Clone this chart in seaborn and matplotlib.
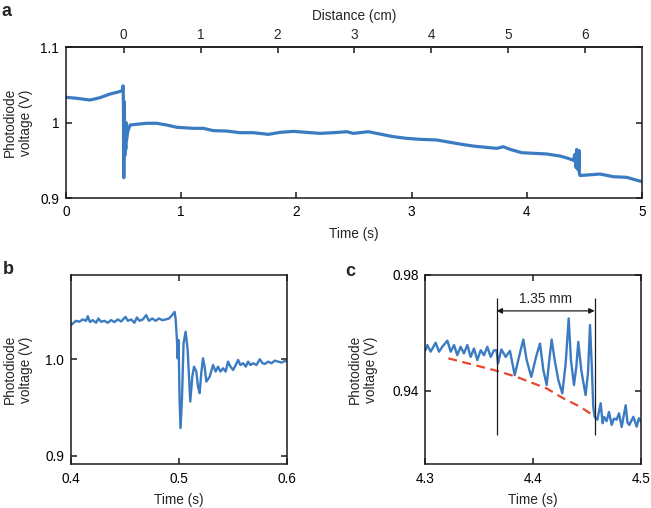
import matplotlib
matplotlib.use("Agg")
import matplotlib.pyplot as plt
import seaborn as sns
import pandas as pd

# ---------------- data ----------------
# Panel a: full photodiode trace
a_time = [0.000, 0.093, 0.208, 0.295, 0.382, 0.454, 0.483, 0.490, 0.4960, 0.4985, 0.5014,
          0.5061, 0.5104, 0.5139, 0.5191, 0.5222, 0.5253, 0.535, 0.556, 0.614, 0.700,
          0.787, 0.874, 0.961, 1.105, 1.192, 1.279, 1.395, 1.510, 1.626, 1.756, 1.858,
          1.973, 2.089, 2.205, 2.320, 2.437, 2.494, 2.624, 2.726, 2.841, 2.957, 3.073,
          3.218, 3.304, 3.420, 3.536, 3.652, 3.738, 3.796, 3.854, 3.956, 4.057, 4.173,
          4.288, 4.360, 4.404, 4.418, 4.425, 4.4325, 4.4387, 4.4465, 4.4500, 4.4533,
          4.4564, 4.462, 4.520, 4.635, 4.751, 4.867, 4.968, 5.000]
a_volt = [1.0338, 1.0325, 1.0302, 1.0333, 1.0382, 1.0409, 1.0426, 1.0430, 1.0491, 1.0200, 0.9270,
          1.0280, 0.9563, 0.9924, 0.9650, 1.0000, 0.9769, 0.9880, 0.9970, 0.9980, 0.9993,
          0.9993, 0.9970, 0.9940, 0.9926, 0.9926, 0.9895, 0.9890, 0.9868, 0.9868, 0.9846, 0.9872,
          0.9886, 0.9872, 0.9859, 0.9868, 0.9881, 0.9859, 0.9881, 0.9850, 0.9815, 0.9793, 0.9780,
          0.9771, 0.9748, 0.9717, 0.9690, 0.9673, 0.9660, 0.9681, 0.9647, 0.9602, 0.9594, 0.9585,
          0.9558, 0.9527, 0.9500, 0.9580, 0.9410, 0.9645, 0.9385, 0.9605, 0.9370, 0.9630,
          0.9322, 0.9300, 0.9305, 0.9319, 0.9283, 0.9275, 0.9230, 0.9220]

# Panel b: zoom around the first transition
b_time = [0.4000, 0.4046, 0.4077, 0.4108, 0.4139, 0.4155, 0.4176, 0.4201, 0.4232, 0.4254,
          0.4278, 0.4309, 0.4340, 0.4371, 0.4402, 0.4433, 0.4464, 0.4504, 0.4526, 0.4557,
          0.4587, 0.4610, 0.4634, 0.4665, 0.4696, 0.4721, 0.4752, 0.4783, 0.4814, 0.4845,
          0.4876, 0.4907, 0.4937, 0.4959, 0.4968,
          0.4981, 0.4987, 0.4996, 0.5005, 0.5014, 0.5027, 0.5042, 0.5061, 0.5080, 0.5104,
          0.5123, 0.5139, 0.5160, 0.5176, 0.5191, 0.5206, 0.5222, 0.5237, 0.5253,
          0.5284, 0.5315, 0.5339, 0.5361, 0.5383, 0.5408, 0.5432, 0.5454, 0.5476, 0.5501,
          0.5525, 0.5547, 0.5568, 0.5594, 0.5618, 0.5640, 0.5661, 0.5686, 0.5717, 0.5748,
          0.5773, 0.5795, 0.5826, 0.5856, 0.5887, 0.5918, 0.5949, 0.5980, 0.6000]
b_volt = [1.0354, 1.0398, 1.0388, 1.0412, 1.0398, 1.0446, 1.0385, 1.0405, 1.0378, 1.0422,
          1.0388, 1.0398, 1.0378, 1.0405, 1.0385, 1.0412, 1.0391, 1.0439, 1.0398, 1.0412,
          1.0378, 1.0433, 1.0398, 1.0412, 1.0457, 1.0398, 1.0422, 1.0398, 1.0422, 1.0405,
          1.0412, 1.0422, 1.0457, 1.0491, 1.0422,
          1.0199, 1.0010, 1.0199, 0.9580, 0.9289, 0.9580, 1.0165, 1.0285, 1.0096, 0.9563,
          0.9821, 0.9924, 0.9873, 0.9718, 0.9650, 0.9856, 1.0010, 0.9924, 0.9769,
          0.9821, 0.9941, 0.9873, 0.9924, 0.9873, 0.9907, 0.9873, 0.9976, 0.9924, 0.9890,
          0.9941, 0.9993, 0.9941, 0.9959, 0.9924, 0.9976, 0.9941, 0.9959, 0.9941, 1.0000,
          0.9959, 0.9952, 0.9976, 0.9959, 0.9986, 0.9976, 0.9966, 0.9983, 0.9976]

# Panel c: zoom around the second transition
c_time = [4.3000, 4.3017, 4.3048, 4.3094, 4.3125, 4.3156, 4.3203, 4.3234, 4.3265, 4.3295,
          4.3326, 4.3357, 4.3388, 4.3419, 4.3450, 4.3481, 4.3512, 4.3543, 4.3574, 4.3605,
          4.3636,
          4.3660, 4.3673, 4.3704, 4.3744, 4.3784, 4.3828, 4.3868, 4.3908, 4.3939, 4.3982,
          4.4026, 4.4063, 4.4094, 4.4125, 4.4149, 4.4171, 4.4199, 4.4233, 4.4270, 4.4301,
          4.4329, 4.4350, 4.4378, 4.4400, 4.4418, 4.4446, 4.4486, 4.4508, 4.4527, 4.4545,
          4.4557, 4.4570,
          4.4595, 4.4626, 4.4644, 4.4657, 4.4681, 4.4703, 4.4728, 4.4749, 4.4774, 4.4796,
          4.4821, 4.4858, 4.4875, 4.4892, 4.4929, 4.4960, 4.4981, 4.5000]
c_volt = [0.9540, 0.9558, 0.9535, 0.9566, 0.9535, 0.9552, 0.9573, 0.9535, 0.9558, 0.9523,
          0.9552, 0.9529, 0.9558, 0.9517, 0.9546, 0.9506, 0.9540, 0.9523, 0.9552, 0.9517,
          0.9540,
          0.9540, 0.9494, 0.9543, 0.9517, 0.9538, 0.9454, 0.9517, 0.9577, 0.9506, 0.9448,
          0.9517, 0.9563, 0.9471, 0.9420, 0.9506, 0.9577, 0.9506, 0.9437, 0.9391, 0.9494,
          0.9650, 0.9506, 0.9420, 0.9483, 0.9569, 0.9471, 0.9385, 0.9460, 0.9627, 0.9471,
          0.9345, 0.9310,
          0.9300, 0.9357, 0.9288, 0.9310, 0.9295, 0.9327, 0.9282, 0.9304, 0.9300, 0.9322,
          0.9275, 0.9350, 0.9290, 0.9282, 0.9310, 0.9276, 0.9305, 0.9293]

# Panel c: red dashed baseline
fit_time = [4.3212, 4.3661, 4.3846, 4.4125, 4.4279, 4.4434, 4.4552]
fit_volt = [0.9512, 0.9469, 0.9448, 0.9408, 0.9374, 0.9345, 0.9316]

# Panel c: 1.35 mm markers
marker_times = [4.366, 4.457]
marker_span = [0.9247, 0.9721]
arrow_level = 0.9676
span_label = "1.35 mm"

# tick definitions
a_yticks = [0.9, 1.0, 1.1]
a_yticklabels = ["0.9", "1", "1.1"]
a_xticks = [0, 1, 2, 3, 4, 5]
dist_ticks = [0, 1, 2, 3, 4, 5, 6]
b_xticks = [0.4, 0.5, 0.6]
b_xticklabels = ["0.4", "0.5", "0.6"]
b_yticks = [0.9, 1.0]
b_yticklabels = ["0.9", "1.0"]
c_xticks = [4.3, 4.4, 4.5]
c_xticklabels = ["4.3", "4.4", "4.5"]
c_yticks = [0.94, 0.98]
c_yticklabels = ["0.94", "0.98"]
sec_per_cm = 0.668
dist_origin = 0.5

# ---------------- style ----------------
sns.set_style("ticks")
plt.rcParams['font.family'] = ['Liberation Sans', 'DejaVu Sans']
plt.rcParams['font.size'] = 10

FS = 9.8
BLUE = "#3a7bc2"
RED = "#e8482b"
INK = "#1a1a1a"

fig = plt.figure(figsize=(6.51, 5.08), dpi=100)
axA = fig.add_axes([0.1014, 0.6102, 0.8848, 0.2963])
axB = fig.add_axes([0.1091, 0.0866, 0.3318, 0.3721])
axC = fig.add_axes([0.6536, 0.0866, 0.3310, 0.3721])


def style(ax, top=True):
    for s in ax.spines.values():
        s.set_visible(True)
        s.set_linewidth(1.1)
        s.set_color(INK)
    ax.tick_params(direction='in', length=4.5, width=1.1, color=INK,
                   labelsize=FS, labelcolor='black', pad=5,
                   right=True, top=top, labeltop=False, labelright=False)


# ---- panel a ----
dfA = pd.DataFrame({"Time (s)": a_time, "V": a_volt})
sns.lineplot(data=dfA, x="Time (s)", y="V", ax=axA, color=BLUE, lw=2.3,
             sort=False, estimator=None)
axA.set_xlim(0, 5)
axA.set_ylim(0.9, 1.1)
axA.set_xticks(a_xticks)
axA.set_yticks(a_yticks)
axA.set_yticklabels(a_yticklabels)
style(axA, top=False)
axA.set_xlabel("Time (s)", fontsize=FS, labelpad=6)
axA.set_ylabel("Photodiode\nvoltage (V)", fontsize=FS, labelpad=5)
sec = axA.secondary_xaxis('top', functions=(lambda t: (t - dist_origin) / sec_per_cm,
                                             lambda d: d * sec_per_cm + dist_origin))
sec.set_xticks(dist_ticks)
sec.tick_params(direction='in', length=4.5, width=1.1, color=INK,
                labelsize=FS, pad=4)
sec.spines['top'].set_linewidth(1.1)
sec.set_xlabel("Distance (cm)", fontsize=FS, labelpad=6)

# ---- panel b ----
dfB = pd.DataFrame({"Time (s)": b_time, "V": b_volt})
sns.lineplot(data=dfB, x="Time (s)", y="V", ax=axB, color=BLUE, lw=1.7,
             sort=False, estimator=None)
axB.set_xlim(0.4, 0.6)
axB.set_ylim(0.8917, 1.0872)
axB.set_xticks(b_xticks)
axB.set_xticklabels(b_xticklabels)
axB.set_yticks(b_yticks)
axB.set_yticklabels(b_yticklabels)
style(axB)
axB.tick_params(axis='x', pad=6)
axB.set_xlabel("Time (s)", fontsize=FS, labelpad=5)
axB.set_ylabel("Photodiode\nvoltage (V)", fontsize=FS, labelpad=9)

# ---- panel c ----
dfC = pd.DataFrame({"Time (s)": c_time, "V": c_volt})
sns.lineplot(data=dfC, x="Time (s)", y="V", ax=axC, color=BLUE, lw=1.7,
             sort=False, estimator=None)
dfF = pd.DataFrame({"t": fit_time, "v": fit_volt})
sns.lineplot(data=dfF, x="t", y="v", ax=axC, color=RED, lw=1.6,
             sort=False, estimator=None)
axC.lines[-1].set_dashes([4, 2.5])
axC.vlines(marker_times, marker_span[0], marker_span[1], color=INK, lw=0.9)
axC.annotate("", xy=(marker_times[1], arrow_level), xytext=(marker_times[0], arrow_level),
             arrowprops=dict(arrowstyle='<|-|>', color=INK, lw=0.9,
                             mutation_scale=8, shrinkA=0, shrinkB=0))
axC.text(sum(marker_times) / 2, 0.9716, span_label, ha='center', va='center', fontsize=FS)
axC.set_xlim(4.3, 4.5)
axC.set_ylim(0.9147, 0.98)
axC.set_xticks(c_xticks)
axC.set_xticklabels(c_xticklabels)
axC.set_yticks(c_yticks)
axC.set_yticklabels(c_yticklabels)
style(axC)
axC.tick_params(axis='x', pad=6)
axC.set_xlabel("Time (s)", fontsize=FS, labelpad=5)
axC.set_ylabel("Photodiode\nvoltage (V)", fontsize=FS, labelpad=10)

# panel letters
fig.text(0.002, 0.995, "a", fontsize=13, fontweight='bold', va='top', ha='left')
fig.text(0.004, 0.487, "b", fontsize=13, fontweight='bold', va='top', ha='left')
fig.text(0.531, 0.483, "c", fontsize=13, fontweight='bold', va='top', ha='left')

fig.savefig("out.png", dpi=100)
